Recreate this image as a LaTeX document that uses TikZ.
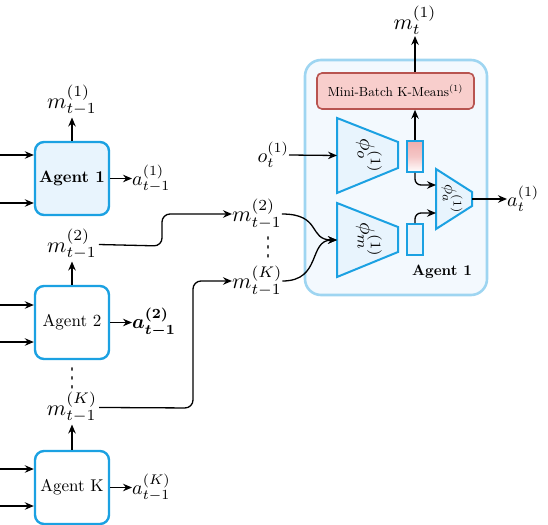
\documentclass[tikz,border=0pt]{standalone}
\usepackage{fontspec}
\usepackage{graphicx}
\usepackage{amsmath,bm}
\usetikzlibrary{arrows.meta,calc}
\newfontfamily\dejavu{DejaVu Sans}
\definecolor{ablue}{HTML}{1BA1E2}
\definecolor{afill}{HTML}{E8F4FD}
\definecolor{obord}{HTML}{9ED5F1}
\definecolor{ofill}{HTML}{F3F9FE}
\definecolor{mbfill}{HTML}{F8CECC}
\definecolor{mbdraw}{HTML}{B85450}
\definecolor{pinkg}{HTML}{F0AEAE}
\newcommand\myvdots{\scalebox{1.4}[2.6]{\dejavu ⋮}}
\newcommand\mlab[1]{\scalebox{2.2}{$#1$}}
\newcommand\alab[1]{\scalebox{2.0}{$#1$}}
\begin{document}
\begin{tikzpicture}[x=1pt,y=-1pt,
  >={Stealth[length=9pt,width=7.5pt,inset=3pt]},
  agent/.style={draw=ablue, line width=2.4pt, rounded corners=9pt, minimum width=74pt, minimum height=73pt, inner sep=0pt},
  lbl/.style={inner sep=0pt},
  conn/.style={->, line width=1.3pt},
  trap/.style={draw=ablue, fill=afill, line width=2pt, line join=miter},
  vec/.style={draw=ablue, line width=1.8pt, minimum width=16pt, minimum height=31pt, inner sep=0pt}
]
\useasboundingbox (0,0) rectangle (548,524);

% ---- left agents ----
\node[agent, fill=afill] (A1) at (72,178.5) {\scalebox{1.65}{\bfseries Agent 1}};
\node[agent, fill=white] (A2) at (72,322.5) {\scalebox{1.7}{Agent 2}};
\node[agent, fill=white] (AK) at (72,487.5) {\scalebox{1.7}{Agent K}};

\coordinate (i11) at (0,155);
\coordinate (i12) at (0,203);
\coordinate (i21) at (0,305);
\coordinate (i22) at (0,342);
\coordinate (iK1) at (0,469);
\coordinate (iK2) at (0,506);
\draw[conn] (i11) -- (A1.west |- i11);
\draw[conn] (i12) -- (A1.west |- i12);
\draw[conn] (i21) -- (A2.west |- i21);
\draw[conn] (i22) -- (A2.west |- i22);
\draw[conn] (iK1) -- (AK.west |- iK1);
\draw[conn] (iK2) -- (AK.west |- iK2);

\node[lbl, anchor=south] (m1) at (72,116) {\mlab{m_{t-1}^{(1)}}};
\draw[conn, shorten >=1.5pt] (A1.north) -- (m1.south);
\node[lbl, anchor=west] (a1) at (132,178.5) {\alab{a_{t-1}^{(1)}}};
\draw[conn] (A1.east) -- (a1.west);

\node[lbl, anchor=south] (m2) at (72,260) {\mlab{m_{t-1}^{(2)}}};
\draw[conn, shorten >=1.5pt] (A2.north) -- (m2.south);
\node[lbl, anchor=west] (a2) at (132,322.5) {\alab{\bm{a}_{\bm{t-1}}^{\bm{(2)}}}};
\draw[conn] (A2.east) -- (a2.west);

\node[lbl] (dl) at (72,378) {\myvdots};

\node[lbl, anchor=south] (mK) at (72,423) {\mlab{m_{t-1}^{(K)}}};
\draw[conn, shorten >=1.5pt] (AK.north) -- (mK.south);
\node[lbl, anchor=west] (aK) at (132,487.5) {\alab{a_{t-1}^{(K)}}};
\draw[conn] (AK.east) -- (aK.west);

% ---- middle labels ----
\node[lbl, anchor=west] (m2b) at (232,214) {\mlab{m_{t-1}^{(2)}}};
\node[lbl] (dm) at (268,247) {\myvdots};
\node[lbl, anchor=west] (mKb) at (232,281) {\mlab{m_{t-1}^{(K)}}};
\draw[conn, rounded corners=8pt, shorten <=2pt] (m2.east) -- (162,246) -- (162,214) -- (m2b.west);
\draw[conn, rounded corners=8pt, shorten <=2pt] (mK.east) -- (193,408) -- (193,281) -- (mKb.west);

% ---- right agent ----
\node[draw=obord, fill=ofill, line width=2.6pt, rounded corners=16pt, minimum width=182pt, minimum height=235pt, inner sep=0pt] (outer) at (396,177.5) {};
\node[draw=mbdraw, fill=mbfill, line width=1.6pt, rounded corners=5pt, minimum width=157pt, minimum height=36pt, inner sep=0pt] (mb) at (395.5,91) {\scalebox{1.32}{Mini-Batch K-Means$^{(1)}$}};

\draw[trap] (337,118) -- (398,142) -- (398,168) -- (337,193) -- cycle;
\coordinate (pow) at (337,155.5);
\node[lbl, rotate=-90] (pol) at (369,156) {\scalebox{2.1}{$\phi_o^{(1)}$}};

\draw[trap] (337,203) -- (398,227) -- (398,252) -- (337,277) -- cycle;
\coordinate (pmw) at (337,240);
\node[lbl, rotate=-90] (pml) at (369,240) {\scalebox{2.1}{$\phi_m^{(1)}$}};

\draw[trap] (436,169) -- (472,192) -- (472,206) -- (436,229) -- cycle;
\coordinate (pa1) at (436,185);
\coordinate (pa2) at (436,213);
\coordinate (pae) at (472,199);
\node[lbl, rotate=-90] (pal) at (452,199) {\scalebox{1.7}{$\phi_a^{(1)}$}};

\node[vec, top color=pinkg, bottom color=white, middle color=pinkg!70] (rt) at (415,156.5) {};
\node[vec, fill=afill] (rb) at (415,239.5) {};

\node[lbl, anchor=east] (ot) at (289,155) {\alab{o_t^{(1)}}};
\draw[conn] (ot.east) -- (pow);

\draw[conn] (m2b.east) .. controls (322,214) and (308,240) .. (pmw);
\draw[conn] (mKb.east) .. controls (322,281) and (308,240) .. (pmw);

\draw[conn] (rt.north) -- (rt.north |- mb.south);
\node[lbl, anchor=south] (mt) at (415,35) {\mlab{m_t^{(1)}}};
\draw[conn, shorten >=1pt] (rt.north |- mb.north) -- (mt.south);

\draw[conn, rounded corners=6pt] (rt.south) |- (pa1);
\draw[conn, rounded corners=6pt] (rb.north) |- (pa2);

\node[lbl, anchor=west] (at) at (507,199) {\alab{a_t^{(1)}}};
\draw[conn] (pae) -- (at.west);

\node[lbl] (ag) at (442,272) {\scalebox{1.5}{\bfseries Agent 1}};
\end{tikzpicture}
\end{document}
